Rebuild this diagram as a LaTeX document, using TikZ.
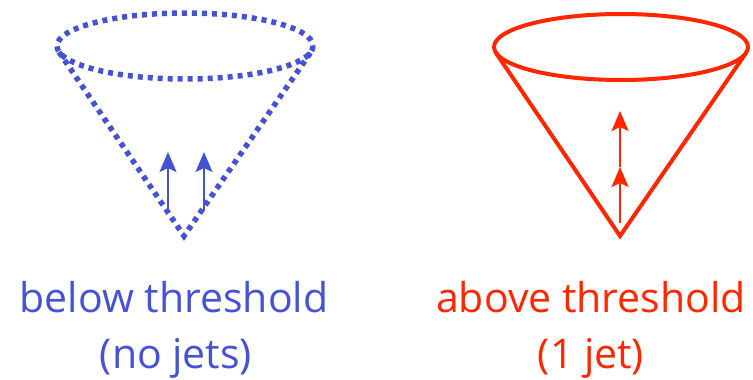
\documentclass[tikz,border=0pt]{standalone}
\usepackage{fontspec}
\setmainfont{Open Sans}
\usepackage{xcolor}
\usetikzlibrary{arrows.meta,calc}

\definecolor{belowblue}{RGB}{70,82,214}
\definecolor{abovered}{RGB}{255,38,0}

\begin{document}
\begin{tikzpicture}[
  x=1pt,
  y=-1pt,
  dotcone/.style={belowblue, line width=5.5pt, dash pattern=on 5pt off 5pt},
  solidcone/.style={abovered, line width=4pt, line join=miter},
  jetb/.style={belowblue, line width=2pt, -{Stealth[length=20pt,width=17pt,inset=4pt]}},
  jetr/.style={abovered, line width=2pt, -{Stealth[length=20pt,width=17pt,inset=4pt]}},
  caption/.style={font=\fontsize{41}{56}\selectfont, align=center, anchor=base}
]
  \useasboundingbox (0,0) rectangle (753,380);

  \coordinate (topb) at (185,46);
  \coordinate (apexb) at (184,236);
  \draw[dotcone] (topb) ellipse [x radius=128, y radius=33];
  \draw[dotcone] ($(topb)+(-126,6)$) -- (apexb) -- ($(topb)+(126,6)$);

  \coordinate (jb1s) at (168,211);
  \coordinate (jb1e) at (168,152);
  \coordinate (jb2s) at (204,211);
  \coordinate (jb2e) at (204,152);
  \draw[jetb] (jb1s) -- (jb1e);
  \draw[jetb] (jb2s) -- (jb2e);

  \coordinate (topr) at (621,47);
  \coordinate (apexr) at (620,236);
  \draw[solidcone] (topr) ellipse [x radius=127, y radius=33];
  \draw[solidcone] ($(topr)+(-125,6)$) -- (apexr) -- ($(topr)+(125,6)$);

  \coordinate (jr1) at (620,223);
  \coordinate (jr2) at (620,167);
  \coordinate (jr3) at (620,111);
  \draw[jetr] (jr1) -- (jr2);
  \draw[jetr] (jr2) -- (jr3);

  \node[caption, belowblue] (below) at (174,312) {below threshold};
  \node[caption, belowblue] (nojets) at (176,368) {(no jets)};
  \node[caption, abovered] (above) at (591,312) {above threshold};
  \node[caption, abovered] (onejet) at (591,368) {(1 jet)};
\end{tikzpicture}
\end{document}
